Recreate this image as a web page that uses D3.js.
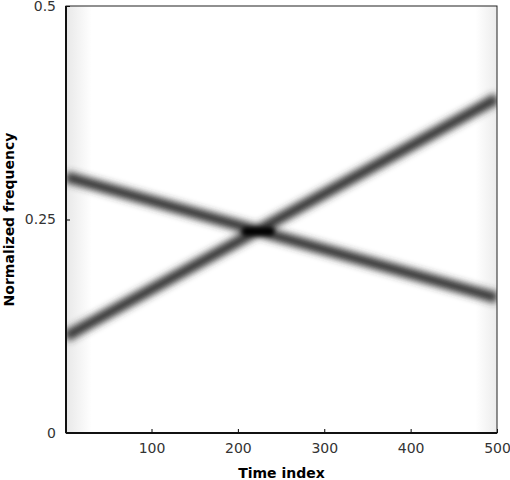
<!DOCTYPE html>
<html><head><meta charset="utf-8">
<script src="https://cdn.jsdelivr.net/npm/d3@7"></script>
<style>body{margin:0;background:#fff}text{font-family:"DejaVu Sans",sans-serif}</style>
</head><body><svg id="chart" width="510" height="480"></svg>
<script>
// chirp endpoints: [time, normalized frequency]
var chirpUp = [[1, 0.113], [500, 0.392]];
var chirpDown = [[1, 0.300], [500, 0.158]];
var crossing = {t0:205, t1:242, f:0.236};
var xTicks = [100, 200, 300, 400, 500];
var yTicks = [0, 0.25, 0.5];

var margins = {left:66, right:13, top:6, bottom:47};
var width = 510 - margins.left - margins.right;
var height = 480 - margins.top - margins.bottom;
var svg = d3.select("#chart");

var xScale = d3.scaleLinear().domain([1, 500]).range([0, width]);
var yScale = d3.scaleLinear().domain([0, 0.5]).range([height, 0]);

var defs = svg.append("defs");
defs.append("filter").attr("id","blur").attr("filterUnits","userSpaceOnUse")
  .attr("x",-20).attr("y",-20).attr("width",width+40).attr("height",height+40)
  .append("feGaussianBlur").attr("stdDeviation", 3.5);
defs.append("filter").attr("id","blur2").attr("filterUnits","userSpaceOnUse")
  .attr("x",-20).attr("y",-20).attr("width",width+40).attr("height",height+40)
  .append("feGaussianBlur").attr("stdDeviation", 2.2);
defs.append("clipPath").attr("id","clip").append("rect").attr("width",width).attr("height",height);
var edge = defs.append("linearGradient").attr("id","edge");
edge.append("stop").attr("offset","0").attr("stop-color","#e8e8e8");
edge.append("stop").attr("offset","0.06").attr("stop-color","#fff");
edge.append("stop").attr("offset","0.95").attr("stop-color","#fff");
edge.append("stop").attr("offset","1").attr("stop-color","#ececec");

var target = svg.append("g").attr("transform","translate("+margins.left+","+margins.top+")");
var plot = target.append("g").attr("clip-path","url(#clip)");
plot.append("rect").attr("width",width).attr("height",height).attr("fill","url(#edge)");

var line = d3.line().x(function(d){return xScale(d[0]);}).y(function(d){return yScale(d[1]);});
var blurred = plot.append("g").attr("filter","url(#blur)");
[chirpUp, chirpDown].forEach(function(c){
  blurred.append("path").attr("d", line(c)).attr("stroke","#333").attr("stroke-width",11).attr("fill","none");
});
plot.append("g").attr("filter","url(#blur2)").append("rect")
  .attr("x", xScale(crossing.t0)).attr("width", xScale(crossing.t1)-xScale(crossing.t0))
  .attr("y", yScale(crossing.f)-4).attr("height", 8).attr("rx",4).attr("fill","#000");

var xAxis = d3.axisBottom(xScale).tickValues(xTicks).tickSize(-4).tickPadding(10).tickFormat(d3.format("d"));
var yAxis = d3.axisLeft(yScale).tickValues(yTicks).tickSize(-4).tickPadding(10).tickFormat(function(d){return d===0?"0":String(d);});
var gx = target.append("g").attr("transform","translate(0,"+height+")").call(xAxis);
var gy = target.append("g").call(yAxis);
[gx, gy].forEach(function(g){
  g.select(".domain").remove();
  g.selectAll("text").attr("font-size",14).attr("fill","#333");
});
target.append("rect").attr("width",width).attr("height",height).attr("fill","none").attr("stroke","#222").attr("stroke-width",1);
target.append("line").attr("x1",0).attr("x2",width).attr("y1",height).attr("y2",height).attr("stroke","#111").attr("stroke-width",2);
target.append("line").attr("x1",0).attr("x2",0).attr("y1",0).attr("y2",height).attr("stroke","#111").attr("stroke-width",2);

svg.append("text").text("Time index").attr("text-anchor","middle").attr("font-weight","bold").attr("font-size",14)
  .attr("x", margins.left + width/2).attr("y", 478);
svg.append("text").text("Normalized frequency").attr("text-anchor","middle").attr("font-weight","bold").attr("font-size",14)
  .attr("transform","translate(14,"+(margins.top+height/2)+") rotate(-90)");
</script></body></html>
